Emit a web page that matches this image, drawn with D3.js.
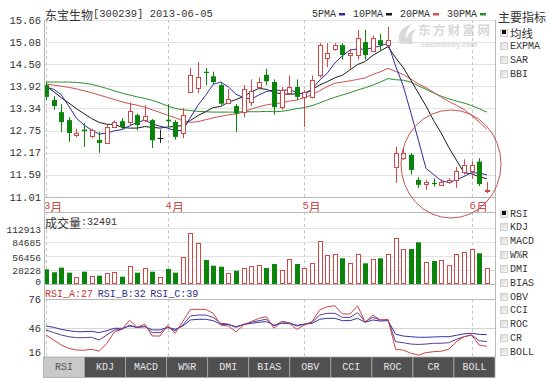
<!DOCTYPE html>
<html><head><meta charset="utf-8">
<script src="https://cdn.jsdelivr.net/npm/d3@7/dist/d3.min.js"></script>
<style>body{margin:0;background:#fff;}svg{display:block;}</style>
</head><body>
<svg id="c" width="550" height="379"></svg>
<script>
// ---------- data ----------
const title = "东宝生物[300239] 2013-06-05";
const opens  = [13.95,13.56,13.24,13.03,12.62,12.78,12.62,12.51,12.43,12.85,13.00,12.99,13.16,13.02,13.03,12.55,13.04,12.98,12.68,13.77,13.85,14.30,14.18,13.95,13.48,13.40,13.25,13.50,13.90,14.22,14.03,13.37,13.74,13.90,13.64,13.64,14.22,14.66,14.90,15.00,14.74,14.74,15.08,14.85,15.13,15.00,11.80,12.03,12.12,11.46,11.35,11.38,11.33,11.40,11.44,11.67,11.68,11.94,11.18];
const highs  = [14.03,13.66,13.45,13.11,12.80,12.95,12.80,12.72,12.90,13.02,13.08,13.50,13.20,13.42,13.06,12.78,13.45,13.03,13.35,14.40,14.56,14.40,14.30,14.00,13.85,13.45,13.95,14.10,14.15,14.38,14.10,13.90,14.20,14.10,13.82,14.20,15.05,15.05,15.05,15.05,14.90,15.40,15.40,15.25,15.30,15.48,12.33,12.30,12.16,11.53,11.45,11.50,11.48,11.50,11.80,12.00,11.95,12.03,11.40];
const lows   = [13.56,13.30,12.72,12.46,12.58,12.32,12.55,12.17,12.40,12.82,12.80,12.90,12.76,12.98,12.30,12.43,12.85,12.52,12.55,13.74,13.74,13.95,13.98,13.43,13.45,12.72,13.10,13.40,13.85,13.95,13.17,13.30,13.70,13.55,12.85,13.60,14.15,14.42,14.85,14.62,14.38,14.62,14.62,14.85,14.85,14.95,11.38,11.98,11.60,11.25,11.20,11.28,11.30,11.36,11.25,11.60,11.48,11.30,11.11];
const closes = [13.64,13.40,12.98,12.69,12.68,12.74,12.77,12.43,12.85,12.98,12.85,13.27,12.90,13.13,12.50,12.55,13.00,12.59,13.16,14.22,14.15,14.27,14.03,13.46,13.58,13.20,13.85,13.80,14.02,14.05,13.37,13.82,13.90,13.64,13.77,14.08,15.00,14.79,15.00,14.74,14.80,15.18,14.74,15.20,15.00,15.13,12.16,12.16,11.72,11.33,11.41,11.36,11.40,11.45,11.68,11.85,11.85,11.35,11.20];
const volumes = [29640,23600,32900,22800,14700,24800,16100,16800,22800,23600,14700,36300,22800,32900,24800,13500,30200,22800,53800,102200,82000,48400,36900,34900,22800,26800,31600,36300,38300,32200,40300,28200,50400,40300,32900,41700,87300,58500,59900,51800,41700,59900,41700,50400,51800,59900,93400,70600,70600,84000,43700,46400,48400,38300,59900,63900,70000,61900,32491];
const ma5  = [13.90,13.84,13.70,13.40,13.08,12.90,12.77,12.66,12.69,12.75,12.78,12.88,12.97,13.03,12.93,12.87,12.82,12.75,12.76,13.10,13.42,13.68,13.97,14.03,13.90,13.71,13.62,13.58,13.69,13.78,13.82,13.81,13.83,13.76,13.70,13.84,14.08,14.26,14.53,14.72,14.87,14.90,14.89,14.93,14.98,15.05,14.45,13.93,13.23,12.50,11.76,11.60,11.44,11.39,11.46,11.55,11.65,11.64,11.59];
const ma10 = [13.92,13.78,13.62,13.48,13.33,13.20,13.07,12.97,12.92,12.92,12.84,12.82,12.82,12.86,12.84,12.82,12.85,12.86,12.89,13.02,13.15,13.25,13.36,13.39,13.50,13.57,13.65,13.77,13.86,13.84,13.76,13.72,13.71,13.72,13.74,13.83,13.95,14.04,14.14,14.21,14.35,14.49,14.57,14.73,14.85,14.96,14.67,14.41,14.08,13.74,13.40,13.02,12.69,12.31,11.98,11.65,11.62,11.54,11.49];
const ma20 = [13.98,13.95,13.92,13.89,13.85,13.80,13.75,13.69,13.63,13.57,13.51,13.46,13.42,13.37,13.30,13.23,13.16,13.09,13.02,12.97,12.99,13.04,13.09,13.13,13.17,13.19,13.25,13.32,13.38,13.43,13.46,13.48,13.53,13.56,13.62,13.70,13.80,13.91,14.00,14.03,14.06,14.10,14.14,14.23,14.30,14.39,14.31,14.23,14.11,13.98,13.88,13.76,13.63,13.52,13.42,13.31,13.15,12.98,12.79];
const ma30 = [14.03,14.03,14.03,14.03,14.02,14.00,13.97,13.92,13.86,13.80,13.74,13.69,13.64,13.60,13.55,13.48,13.40,13.34,13.30,13.28,13.26,13.25,13.24,13.24,13.24,13.24,13.25,13.25,13.25,13.26,13.25,13.26,13.29,13.33,13.36,13.41,13.48,13.56,13.63,13.69,13.75,13.82,13.88,13.95,14.03,14.12,14.09,14.08,14.03,13.93,13.84,13.74,13.66,13.59,13.53,13.48,13.41,13.33,13.24];
const rsiA = [38.8,33.6,28.4,25,23.2,23,24,22,30,42,44.6,54,46.7,50,37.7,37.7,49,40.5,52.6,65.3,65.3,65.3,61.2,49,48,42,49,52.6,56,57.7,45.7,52.6,50.8,44.6,49,52.6,64.6,68,69,60.5,60.5,69,51.9,59.4,54.3,55,24,23.2,19.8,18,20.5,21.5,22,24,31.8,37,38.8,28.4,27];
const rsiB = [44,41.2,38.8,37,36,36,36.4,33.5,38.8,44,44.6,49,46.3,48,41.2,41.2,46.7,43.2,49,58.4,59.4,59.4,57,50.8,50,46.7,49.8,51.9,53.6,55,48,52.6,51.5,48,50,51.9,59.4,61.2,61.2,57,57,61.8,52.6,57,54.3,54.3,31.8,30.8,29.4,29,29.4,30.2,30.2,30.8,34.3,37,38.8,32.9,32];
const rsiC = [48,46.7,44.6,43.2,42.2,42.2,42.6,41.2,43.2,45.7,45.7,48,46.7,47.3,44,44,46.7,44.6,48,54.3,55,55,53.6,49.8,49.5,47.3,49.5,50.8,51.9,52.6,48.8,50.8,50.8,48.8,49.8,50.8,55,56,56,53.6,53.6,56,51.9,54.3,53.2,53.6,39.5,37.7,37,36.4,36.4,36.7,37,37,38.4,40,40.5,39.5,39];
const priceTicks = [15.66,15.08,14.50,13.92,13.34,12.75,12.17,11.59,11.01];
const volTicks = [112913,84685,56456,28228,0];
const rsiTicks = [76,46,16];
const monthIdx = [0,16,34,56];
const monthLabels = ["3月","4月","5月","6月"];
const maNames = ["5PMA","10PMA","20PMA","30PMA"];
const mainInd = ["均线","EXPMA","SAR","BBI"];
const subInd = ["RSI","KDJ","MACD","W%R","DMI","BIAS","OBV","CCI","ROC","CR","BOLL"];
const volTitle = "成交量";
const rsiNames = ["RSI_A","RSI_B","RSI_C"];

// ---------- setup ----------
const MONO = "'Liberation Mono','DejaVu Sans Mono',monospace";
const CJK = "'Noto Sans CJK SC','Noto Sans CJK JP',sans-serif";
const RED = "#d04848", GREEN = "#0a840a", GRID = "#e2e2e2", AXIS = "#b8b8b8", TXT = "#333";
const maColors = ["#2c2c9c","#1a1a1a","#d05050","#2e8f2e"];
const rsiColors = ["#cc4444","#5a3c96","#3434a4"];
const rsiTxtColors = ["#cc3333","#2e2e8a","#2e2e8a"];
const svg = d3.select("#c");
const L = 44, R = 495;
const n = closes.length;
const x = d3.scaleLinear().domain([0, n - 1]).range([46, 486.8]);
const yP = d3.scaleLinear().domain([11.01, 15.66]).range([197, 20]);
const yV = d3.scaleLinear().domain([0, 112913]).range([284, 228]);
const yR = d3.scaleLinear().domain([16, 76]).range([357, 299]);
const px = v => Math.round(v) + 0.5;

function rich(g, tx, ty, str, o = {}) {
  const t = g.append("text").attr("x", tx).attr("y", ty).attr("fill", o.fill || TXT)
    .attr("dominant-baseline", "central").attr("text-anchor", o.anchor || "start");
  const runs = str.match(/[\u3000-\u9fff\uff00-\uffef]+|[^\u3000-\u9fff\uff00-\uffef]+/g) || [];
  runs.forEach(r => {
    const cj = /[\u3000-\u9fff\uff00-\uffef]/.test(r);
    t.append("tspan").text(r).attr("font-family", cj ? CJK : MONO)
      .attr("font-size", cj ? (o.cjk || 12) : (o.size || 10));
  });
  return t;
}

const defs = svg.append("defs");
const gr = defs.append("linearGradient").attr("id", "cb").attr("x1", 0).attr("y1", 0).attr("x2", 1).attr("y2", 1);
gr.append("stop").attr("offset", 0).attr("stop-color", "#d8d8d8");
gr.append("stop").attr("offset", 1).attr("stop-color", "#fafafa");

// ---------- price panel ----------
const gP = svg.append("g");
gP.selectAll("line.g").data(priceTicks).join("line")
  .attr("x1", L).attr("x2", R).attr("y1", d => px(yP(d))).attr("y2", d => px(yP(d)))
  .attr("stroke", GRID);
gP.selectAll("text.t").data(priceTicks).join("text")
  .attr("x", 41).attr("y", d => yP(d) + 0.5).attr("text-anchor", "end").attr("dominant-baseline", "central")
  .attr("font-family", MONO).attr("font-size", 10.5).attr("fill", TXT).text(d => d.toFixed(2));

// watermark
const wm = svg.append("g").attr("fill", "#d9d9d9");
wm.append("path").attr("d", "M400,44 C396,35 401,27 412,24 C406,30 404,36 408,43 Z M406,44 C405,37 409,31 416,29 C412,34 411,39 413,44 Z");
wm.append("text").attr("x", 418).attr("y", 35).attr("font-family", CJK).attr("font-size", 12.5).attr("font-weight", "bold").attr("textLength", 72).text("东方财富网");
wm.append("text").attr("x", 421).attr("y", 46.5).attr("font-family", "Arial, sans-serif").attr("font-size", 7.5).attr("font-weight", "bold").text("eastmoney.com");

// month dashed lines
const panels = [[20, 197], [212, 284], [299, 357]];
panels.forEach(([a, b]) => {
  svg.append("g").selectAll("line").data(monthIdx).join("line")
    .attr("x1", d => px(x(d))).attr("x2", d => px(x(d))).attr("y1", a).attr("y2", b)
    .attr("stroke", "#c4c4c4").attr("stroke-dasharray", "3,3");
});
monthIdx.forEach((d, k) => rich(svg, x(d) - 2, 206, monthLabels[k], { fill: "#c44a4a", size: 10.5 }));

// MA lines
const mas = [ma5, ma10, ma20, ma30];
const lineP = d3.line().x((d, i) => x(i)).y(d => yP(d));
[3, 2, 1, 0].forEach(k => {
  svg.append("path").datum(mas[k]).attr("d", lineP).attr("fill", "none")
    .attr("stroke", maColors[k]).attr("stroke-width", 1);
});

// candles
const candles = d3.range(n).map(i => ({ i, o: opens[i], h: highs[i], l: lows[i], c: closes[i] }));
const colorOf = d => d.c > d.o ? RED : (d.c < d.o ? GREEN : "#222");
const gC = svg.append("g");
candles.forEach(d => {
  const cx = px(x(d.i)), col = colorOf(d);
  gC.append("line").attr("x1", cx).attr("x2", cx).attr("y1", yP(d.h)).attr("y2", yP(d.l)).attr("stroke", col);
  const top = yP(Math.max(d.o, d.c)), bot = yP(Math.min(d.o, d.c));
  if (d.c > d.o) {
    gC.append("rect").attr("x", cx - 2).attr("y", Math.round(top) + 0.5).attr("width", 4)
      .attr("height", Math.max(1, Math.round(bot - top))).attr("fill", "#fff").attr("stroke", col);
  } else if (d.c < d.o) {
    gC.append("rect").attr("x", cx - 2.5).attr("y", top).attr("width", 5)
      .attr("height", Math.max(1.2, bot - top)).attr("fill", col);
  } else {
    gC.append("line").attr("x1", cx - 3).attr("x2", cx + 3).attr("y1", px(top)).attr("y2", px(top)).attr("stroke", col);
  }
});

// title & legend
rich(svg, 45, 14, title, { fill: TXT, size: 10.5 });
let lx = 312;
maNames.forEach((nm, k) => {
  svg.append("text").attr("x", lx).attr("y", 14.5).attr("dominant-baseline", "central")
    .attr("font-family", MONO).attr("font-size", 10).attr("fill", TXT).text(nm);
  const w = nm.length * 6;
  svg.append("rect").attr("x", lx + w + 3).attr("y", 13).attr("width", 6).attr("height", 2.5).attr("fill", maColors[k]);
  lx += w + 17;
});

// ---------- volume panel ----------
const gV = svg.append("g");
gV.selectAll("line").data(volTicks).join("line")
  .attr("x1", L).attr("x2", R).attr("y1", d => px(yV(d))).attr("y2", d => px(yV(d))).attr("stroke", GRID);
gV.selectAll("text").data(volTicks).join("text")
  .attr("x", 41).attr("y", d => d === 0 ? yV(d) - 2 : (d === 28228 ? yV(d) + 1 : yV(d) + 2)).attr("text-anchor", "end").attr("dominant-baseline", "central")
  .attr("font-family", MONO).attr("font-size", 9.6).attr("fill", TXT).text(d => d);
rich(svg, 45, 222, volTitle + ":" + volumes[n - 1], { size: 10 });
volumes.forEach((v, i) => {
  const d = candles[i], cx = px(x(i));
  const up = d.c >= d.o;
  const top = yV(v);
  if (up) {
    gV.append("rect").attr("x", cx - 2).attr("y", Math.round(top) + 0.5).attr("width", 4)
      .attr("height", Math.round(283 - top)).attr("fill", "#fff").attr("stroke", RED);
  } else {
    gV.append("rect").attr("x", cx - 2.5).attr("y", top).attr("width", 5).attr("height", 284 - top).attr("fill", GREEN);
  }
});

// ---------- RSI panel ----------
const gR = svg.append("g");
gR.selectAll("line").data(rsiTicks).join("line")
  .attr("x1", L).attr("x2", R).attr("y1", d => px(yR(d))).attr("y2", d => px(yR(d))).attr("stroke", d => d === 46 ? "#d4d4d4" : AXIS);
gR.selectAll("text").data(rsiTicks).join("text")
  .attr("x", 41).attr("y", d => d === 16 ? yR(d) - 4 : yR(d) + 1).attr("text-anchor", "end").attr("dominant-baseline", "central")
  .attr("font-family", MONO).attr("font-size", 10.5).attr("fill", TXT).text(d => d);
const rsis = [rsiA, rsiB, rsiC];
const lineR = d3.line().x((d, i) => x(i)).y(d => yR(d));
[2, 1, 0].forEach(k => {
  gR.append("path").datum(rsis[k]).attr("d", lineR).attr("fill", "none").attr("stroke", rsiColors[k]).attr("stroke-width", 1);
});
let rx = 45;
rsiNames.forEach((nm, k) => {
  const s = nm + ":" + Math.round(rsis[k][n - 1]);
  svg.append("text").attr("x", rx).attr("y", 294.5).attr("dominant-baseline", "central")
    .attr("font-family", MONO).attr("font-size", 10).attr("fill", rsiTxtColors[k]).text(s);
  rx += (s.length + 1) * 5.85;
});

// ---------- frame lines ----------
const fr = svg.append("g").attr("stroke", AXIS);
fr.append("line").attr("x1", px(L)).attr("x2", px(L)).attr("y1", 20).attr("y2", 377);
fr.append("line").attr("x1", px(R)).attr("x2", px(R)).attr("y1", 20).attr("y2", 357);
fr.append("line").attr("x1", L).attr("x2", R).attr("y1", px(197)).attr("y2", px(197));
fr.append("line").attr("x1", L).attr("x2", R).attr("y1", px(212)).attr("y2", px(212));
fr.append("line").attr("x1", L).attr("x2", R).attr("y1", px(284)).attr("y2", px(284));

// ---------- tabs ----------
const tb = d3.scaleBand().domain(subInd).range([43.5, 495]);
const gT = svg.append("g");
subInd.forEach((nm, k) => {
  const sel = k === 0;
  gT.append("rect").attr("x", tb(nm)).attr("y", 357).attr("width", tb.bandwidth()).attr("height", 20.5)
    .attr("fill", sel ? "#c9c9c9" : "#505050").attr("stroke", "#a8a8a8").attr("stroke-width", 0.8);
  gT.append("text").attr("x", tb(nm) + tb.bandwidth() / 2).attr("y", 367.5).attr("text-anchor", "middle")
    .attr("dominant-baseline", "central").attr("font-family", MONO).attr("font-size", 10)
    .attr("fill", sel ? "#555" : "#e6e6e6").text(nm);
});

// ---------- right side panel ----------
rich(svg, 498, 15.5, "主要指标", { cjk: 12 });
function checkList(list, y0, step) {
  list.forEach((nm, k) => {
    const cy = y0 + k * step;
    svg.append("rect").attr("x", 500.5).attr("y", Math.round(cy - 4) + 0.5).attr("width", 7).attr("height", 7)
      .attr("fill", "url(#cb)").attr("stroke", "#d0d0d0");
    if (k === 0) svg.append("rect").attr("x", 502).attr("y", Math.round(cy - 2.5)).attr("width", 4).attr("height", 4).attr("fill", "#111");
    rich(svg, 510, cy, nm, { size: 10, cjk: 11.5 });
  });
}
checkList(mainInd, 32.5, 13.9);
checkList(subInd, 213.5, 13.85);

// ---------- annotation circle ----------
svg.append("ellipse").attr("cx", 451).attr("cy", 164).attr("rx", 50).attr("ry", 54)
  .attr("fill", "none").attr("stroke", "#c05555").attr("stroke-width", 1);
</script>
</body></html>
